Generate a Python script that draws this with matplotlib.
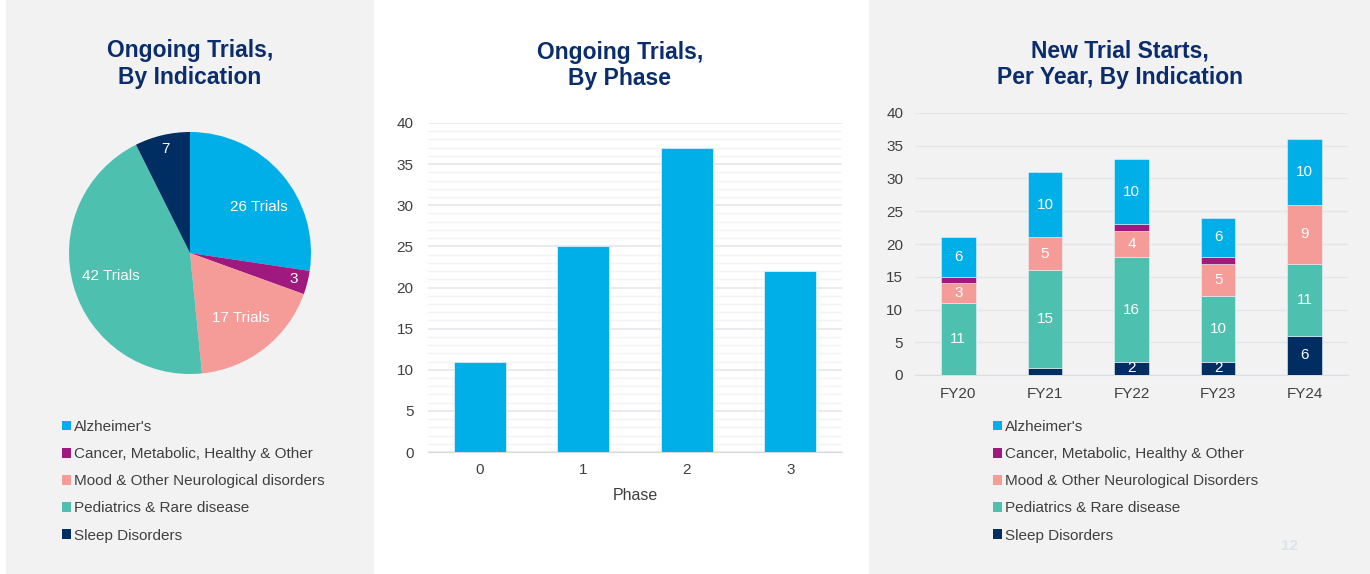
import matplotlib.pyplot as plt
from matplotlib.patches import Rectangle, Patch
import numpy as np

plt.rcParams['font.family'] = ['Liberation Sans', 'DejaVu Sans']

# ---- data ----
indications = ["Alzheimer's", "Cancer, Metabolic, Healthy & Other",
               "Mood & Other Neurological disorders", "Pediatrics & Rare disease",
               "Sleep Disorders"]
pie_values = [26, 3, 17, 42, 7]
pie_labels = ["26 Trials", "3", "17 Trials", "42 Trials", "7"]

phases = ["0", "1", "2", "3"]
phase_counts = [11, 25, 37, 22]

years = ["FY20", "FY21", "FY22", "FY23", "FY24"]
sleep = [0, 1, 2, 2, 6]
pediatrics = [11, 15, 16, 10, 11]
mood = [3, 5, 4, 5, 9]
cancer = [1, 0, 1, 1, 0]
alzheimers = [6, 10, 10, 6, 10]
legend_right = ["Alzheimer's", "Cancer, Metabolic, Healthy & Other",
                "Mood & Other Neurological Disorders", "Pediatrics & Rare disease",
                "Sleep Disorders"]

# ---- styles ----
c_alz = '#00AEE8'
c_can = '#A0197F'
c_mood = '#F59B98'
c_ped = '#4DC0B0'
c_sleep = '#002D62'
colors = [c_alz, c_can, c_mood, c_ped, c_sleep]
title_c = '#0B2D6B'
panel_c = '#F2F2F2'
text_c = '#404040'

fig = plt.figure(figsize=(13.7, 5.74), dpi=100)
fig.patch.set_facecolor('white')
W, H = 1370, 574

# grey panels (behind the axes)
fig.patches.append(Rectangle((6 / W, 0), 368 / W, 1, transform=fig.transFigure,
                             facecolor=panel_c, edgecolor='none', zorder=-5))
fig.patches.append(Rectangle((869 / W, 0), 501 / W, 1, transform=fig.transFigure,
                             facecolor=panel_c, edgecolor='none', zorder=-5))

title_kw = dict(ha='center', va='center', fontsize=16.5, fontweight='bold',
                color=title_c, linespacing=1.2)
fig.text(190 / W, 1 - 64 / H, "Ongoing Trials,\nBy Indication", **title_kw)
fig.text(620 / W, 1 - 65.5 / H, "Ongoing Trials,\nBy Phase", **title_kw)
fig.text(1120 / W, 1 - 64 / H, "New Trial Starts,\nPer Year, By Indication", **title_kw)

# ---- pie ----
ax1 = fig.add_axes([69 / W, 1 - 374 / H, 242 / W, 242 / H])
ax1.set_facecolor('none')
wedges, _ = ax1.pie(pie_values, colors=colors, startangle=90, counterclock=False,
                    wedgeprops=dict(edgecolor='none'))
ax1.set_xlim(-1, 1)
ax1.set_ylim(-1, 1)
ax1.set_aspect('equal')
for i, (w, lab, v) in enumerate(zip(wedges, pie_labels, pie_values)):
    mid = (w.theta1 + w.theta2) / 2
    if i == 0:
        mid -= 7  # excel nudges this label toward the wider part of the slice
    ang = np.deg2rad(mid)
    r = 0.88 if v < 10 else 0.68
    ax1.text(r * np.cos(ang), r * np.sin(ang), lab, ha='center', va='center',
             color='white', fontsize=11)

handles = [Patch(facecolor=c, edgecolor='none') for c in colors]
leg_kw = dict(loc='upper left', frameon=False, fontsize=11, handlelength=0.6,
              handleheight=0.6, handletextpad=0.2, labelspacing=0.86,
              labelcolor=text_c, borderaxespad=0, borderpad=0)
fig.legend(handles, indications, bbox_to_anchor=(62 / W, 1 - 420 / H), **leg_kw)

# ---- bar by phase ----
ax2 = fig.add_axes([428 / W, 1 - 452 / H, 414 / W, 329 / H])
ax2.set_facecolor('none')
x = np.arange(len(phases))
ax2.bar(x, phase_counts, width=0.5, color=c_alz, edgecolor='#D6F0FA', linewidth=0.6, zorder=3)
ax2.set_xlim(-0.5, 3.5)
ax2.set_ylim(0, 40)
ax2.set_yticks(np.arange(0, 41, 5))
ax2.set_yticks(np.arange(0, 41, 1), minor=True)
ax2.grid(axis='y', which='major', color='#E6E6EC', linewidth=1.2, zorder=0)
ax2.grid(axis='y', which='minor', color='#F3F3F6', linewidth=1.0, zorder=0)
ax2.set_xticks(x)
ax2.set_xticklabels(phases)
ax2.set_xlabel("Phase", fontsize=11.5, color=text_c, labelpad=7.5)
ax2.tick_params(axis='both', which='both', length=0, labelsize=11, colors=text_c)
ax2.tick_params(axis='y', pad=10.5)
ax2.tick_params(axis='x', pad=8)
for s in ['top', 'right', 'left']:
    ax2.spines[s].set_visible(False)
ax2.spines['bottom'].set_color('#D9D9E0')

# ---- stacked bar by year ----
ax3 = fig.add_axes([915 / W, 1 - 375 / H, 433 / W, 262 / H])
ax3.set_facecolor('none')
xr = np.arange(len(years))
series = [(sleep, c_sleep), (pediatrics, c_ped), (mood, c_mood), (cancer, c_can), (alzheimers, c_alz)]
bottom = np.zeros(len(years))
for vals, col in series:
    vals = np.array(vals)
    ax3.bar(xr, vals, bottom=bottom, width=0.4, color=col, edgecolor='#E8F4F8',
            linewidth=0.4, zorder=3)
    if col != c_can:
        for xi, b, v in zip(xr, bottom, vals):
            if v >= 2:
                ax3.text(xi, b + v / 2, str(v), ha='center', va='center',
                         color='white', fontsize=11, zorder=4)
    bottom += vals
ax3.set_xlim(-0.5, 4.5)
ax3.set_ylim(0, 40)
ax3.set_yticks(np.arange(0, 41, 5))
ax3.grid(axis='y', color='#E4E4EA', linewidth=1.0, zorder=0)
ax3.set_xticks(xr)
ax3.set_xticklabels(years)
ax3.tick_params(axis='both', length=0, labelsize=11, colors=text_c)
ax3.tick_params(axis='y', pad=8.5)
ax3.tick_params(axis='x', pad=9)
for s in ['top', 'right', 'left']:
    ax3.spines[s].set_visible(False)
ax3.spines['bottom'].set_color('#DCDCE2')

fig.legend(handles, legend_right, bbox_to_anchor=(993 / W, 1 - 420 / H), **leg_kw)

# faint page number
fig.text(1289 / W, 1 - 546 / H, "12", ha='center', va='center', fontsize=11,
         fontweight='bold', color='#DCE3EA')

fig.savefig('out.png', dpi=100, facecolor=fig.get_facecolor())
